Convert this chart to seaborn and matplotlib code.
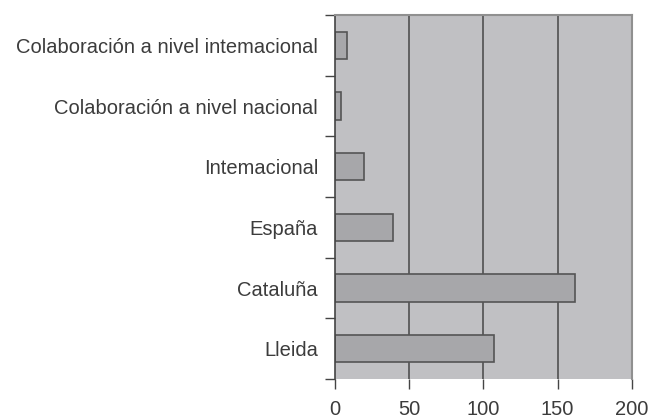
import numpy as np
import pandas as pd
import matplotlib
matplotlib.use("Agg")
import matplotlib.pyplot as plt
import seaborn as sns

# data
categorias = ["Colaboración a nivel intemacional",
              "Colaboración a nivel nacional",
              "Intemacional",
              "España",
              "Cataluña",
              "Lleida"]
valores = [8, 4, 20, 39, 162, 107]

df = pd.DataFrame({"categoria": categorias, "valor": valores})

sns.set_style("white")
plt.rcParams['font.family'] = ['Liberation Sans', 'DejaVu Sans']

fig = plt.figure(figsize=(6.5, 4.18), dpi=100)
ax = fig.add_axes([0.515, 0.093, 0.457, 0.871])

sns.barplot(data=df, x="valor", y="categoria", orient="h", color="#a7a7aa",
            edgecolor="#555555", linewidth=1.2, width=0.45, saturation=1, ax=ax)

ax.set_facecolor("#c0c0c3")
ax.set_xlim(0, 200)
ax.set_ylim(len(categorias) - 0.5, -0.5)
ax.set_xticks([0, 50, 100, 150, 200])
for x in [50, 100, 150]:
    ax.axvline(x, color="#505050", lw=1.2, zorder=0.5)

# category tick marks sit between the bars
ax.set_yticks(np.arange(-0.5, len(categorias)), minor=True)
ax.tick_params(axis="y", which="minor", length=7, width=1, color="#444444", left=True)
ax.tick_params(axis="y", which="major", length=0, pad=12, labelsize=14.5, labelcolor="#3c3c3c")
ax.tick_params(axis="x", length=7, width=1, color="#444444", bottom=True, pad=8,
               labelsize=14.5, labelcolor="#3c3c3c")

ax.set_xlabel("")
ax.set_ylabel("")
for side in ["top", "right"]:
    ax.spines[side].set_color("#909090")
    ax.spines[side].set_linewidth(1.5)
ax.spines["left"].set_color("#444444")
ax.spines["bottom"].set_visible(False)
ax.spines["left"].set_linewidth(1.2)

fig.savefig("out.png", dpi=100)
